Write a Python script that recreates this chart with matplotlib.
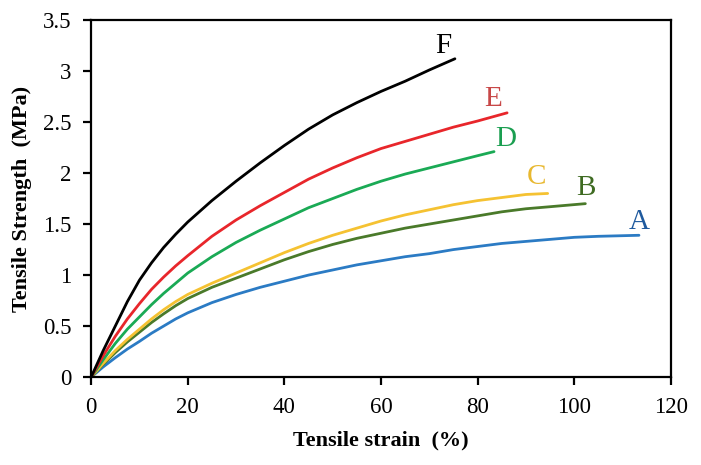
import matplotlib
matplotlib.use("Agg")
import matplotlib.pyplot as plt

# Tensile strain (%) vs tensile strength (MPa)
strain_F = [0, 2.5, 5, 7.5, 10, 12.5, 15, 17.5, 20, 25, 30, 35, 40, 45, 50, 55, 60, 65, 70, 75.3]
stress_F = [0, 0.26, 0.5, 0.74, 0.95, 1.12, 1.27, 1.4, 1.52, 1.73, 1.92, 2.1, 2.27, 2.43, 2.57,
            2.69, 2.8, 2.9, 3.01, 3.12]

strain_E = [0, 2.5, 5, 7.5, 10, 12.5, 15, 17.5, 20, 25, 30, 35, 40, 45, 50, 55, 60, 65, 70, 75,
            80, 86.1]
stress_E = [0, 0.21, 0.4, 0.57, 0.72, 0.86, 0.98, 1.09, 1.19, 1.38, 1.54, 1.68, 1.81, 1.94, 2.05,
            2.15, 2.24, 2.31, 2.38, 2.45, 2.51, 2.59]

strain_D = [0, 2.5, 5, 7.5, 10, 12.5, 15, 17.5, 20, 25, 30, 35, 40, 45, 50, 55, 60, 65, 70, 75,
            80, 83.4]
stress_D = [0, 0.17, 0.33, 0.47, 0.59, 0.71, 0.82, 0.92, 1.02, 1.18, 1.32, 1.44, 1.55, 1.66, 1.75,
            1.84, 1.92, 1.99, 2.05, 2.11, 2.17, 2.21]

strain_C = [0, 2.5, 5, 7.5, 10, 12.5, 15, 17.5, 20, 25, 30, 35, 40, 45, 50, 55, 60, 65, 70, 75,
            80, 85, 90, 94.5]
stress_C = [0, 0.135, 0.26, 0.37, 0.47, 0.57, 0.66, 0.74, 0.81, 0.92, 1.02, 1.12, 1.22, 1.31, 1.39,
            1.46, 1.53, 1.59, 1.64, 1.69, 1.73, 1.76, 1.79, 1.8]

strain_B = [0, 2.5, 5, 7.5, 10, 12.5, 15, 17.5, 20, 25, 30, 35, 40, 45, 50, 55, 60, 65, 70, 75,
            80, 85, 90, 95, 102.3]
stress_B = [0, 0.125, 0.24, 0.345, 0.44, 0.535, 0.62, 0.7, 0.77, 0.88, 0.97, 1.06, 1.15, 1.23,
            1.3, 1.36, 1.41, 1.46, 1.5, 1.54, 1.58, 1.62, 1.65, 1.67, 1.7]

strain_A = [0, 2.5, 5, 7.5, 10, 12.5, 15, 17.5, 20, 25, 30, 35, 40, 45, 50, 55, 60, 65, 70, 75,
            80, 85, 90, 95, 100, 105, 113.4]
stress_A = [0, 0.1, 0.19, 0.275, 0.35, 0.43, 0.5, 0.57, 0.63, 0.73, 0.81, 0.88, 0.94, 1.0, 1.05,
            1.1, 1.14, 1.18, 1.21, 1.25, 1.28, 1.31, 1.33, 1.35, 1.37, 1.38, 1.39]

labels = ["A", "B", "C", "D", "E", "F"]
label_x = [113.4, 102.4, 92.2, 85.8, 83.2, 72.8]
label_y = [1.52, 1.85, 1.96, 2.33, 2.73, 3.25]

curves = [
    (strain_A, stress_A, "#2b7bc4", "#1f5a9e"),
    (strain_B, stress_B, "#4a7a2a", "#3f6b22"),
    (strain_C, stress_C, "#f5c232", "#e8b830"),
    (strain_D, stress_D, "#1aaa55", "#1a9e50"),
    (strain_E, stress_E, "#e8262b", "#c84848"),
    (strain_F, stress_F, "#000000", "#000000"),
]

plt.rcParams["font.family"] = ["Liberation Serif", "DejaVu Serif"]

fig = plt.figure(figsize=(7.01, 4.65), dpi=100)
ax = fig.add_axes([0.13, 0.189, 0.827, 0.768])

for (xs, ys, line_col, text_col), lab, lx, ly in zip(curves, labels, label_x, label_y):
    ax.plot(xs, ys, color=line_col, linewidth=2.0, solid_capstyle="round", solid_joinstyle="round")
    ax.text(lx, ly, lab, color=text_col, fontsize=21, ha="center", va="center")

ax.set_xlim(0, 120)
ax.set_ylim(0, 3.5)
ax.set_xticks(range(0, 121, 20))
ax.set_yticks([0, 0.5, 1, 1.5, 2, 2.5, 3, 3.5])
ax.set_yticklabels(["0", "0.5", "1", "1.5", "2", "2.5", "3", "3.5"])

for s in ax.spines.values():
    s.set_linewidth(1.6)
ax.tick_params(direction="out", length=5.5, width=1.6, labelsize=16.5)
ax.tick_params(axis="x", pad=9)
ax.tick_params(axis="y", pad=8.5)

ax.set_xlabel("Tensile strain  (%)", fontsize=16, fontweight="bold", labelpad=9)
ax.set_ylabel("Tensile Strength  (MPa)", fontsize=16, fontweight="bold", labelpad=8)

fig.savefig("out.png", dpi=100)
